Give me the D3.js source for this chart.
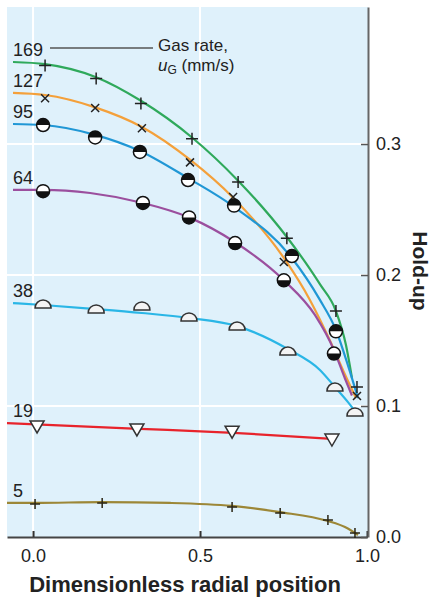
<!DOCTYPE html>
<html>
<head>
<meta charset="utf-8">
<script src="https://cdn.jsdelivr.net/npm/d3@7"></script>
<style>
  body { margin: 0; background: #fff; }
  text { font-family: "Liberation Sans", Arial, Helvetica, sans-serif; fill: #222; }
</style>
</head>
<body>
<main></main>
<script>
// gas rates (mm/s) and the colour of each fitted curve
const rates = [169, 127, 95, 64, 38, 19, 5];
const colors = ["#2fa95b", "#f4a03a", "#2097d5", "#9b4f9e", "#2ab6e6", "#e8232b", "#9c8737"];
const markers = ["plus", "cross", "topHalf", "bottomHalf", "dome", "triangle", "plusSmall"];

// fitted curves: [radial position, hold-up]
const curve169 = [[-0.060, 0.3626], [0.036, 0.361], [0.189, 0.351], [0.323, 0.333], [0.476, 0.305], [0.614, 0.272], [0.760, 0.229], [0.859, 0.193], [0.907, 0.1725], [0.937, 0.1466], [0.955, 0.1214]];
const curve127 = [[-0.060, 0.339], [0.036, 0.3374], [0.186, 0.328], [0.326, 0.313], [0.470, 0.288], [0.599, 0.259], [0.751, 0.213], [0.829, 0.181], [0.889, 0.150], [0.934, 0.124], [0.967, 0.106]];
const curve95 = [[-0.060, 0.3153], [0.030, 0.3145], [0.186, 0.307], [0.320, 0.2947], [0.464, 0.274], [0.602, 0.252], [0.775, 0.213], [0.859, 0.181], [0.907, 0.158], [0.943, 0.131], [0.973, 0.106]];
const curve64 = [[-0.060, 0.265], [0.030, 0.265], [0.171, 0.2626], [0.329, 0.255], [0.467, 0.244], [0.605, 0.225], [0.751, 0.196], [0.844, 0.1695], [0.901, 0.1427], [0.934, 0.121], [0.955, 0.108]];
const curve38 = [[-0.060, 0.1786], [0.030, 0.1771], [0.189, 0.174], [0.326, 0.171], [0.467, 0.1672], [0.611, 0.161], [0.763, 0.1435], [0.859, 0.1275], [0.904, 0.1145], [0.943, 0.103], [0.973, 0.093]];
const curve19 = [[-0.078, 0.0870], [0.300, 0.0828], [0.600, 0.0795], [0.892, 0.0750]];
const curve5 = [[-0.078, 0.026], [0.006, 0.026], [0.207, 0.0267], [0.410, 0.026], [0.596, 0.0237], [0.740, 0.019], [0.883, 0.0122], [0.934, 0.0076], [0.973, 0.0015]];

// measured points
const pts169 = [[0.036, 0.360], [0.189, 0.350], [0.323, 0.331], [0.476, 0.304], [0.614, 0.271], [0.760, 0.228], [0.907, 0.1725], [0.970, 0.1145]];
const pts127 = [[0.036, 0.335], [0.186, 0.3275], [0.326, 0.312], [0.470, 0.286], [0.599, 0.2595], [0.751, 0.210], [0.970, 0.1076]];
const pts95 = [[0.030, 0.3145], [0.186, 0.305], [0.320, 0.294], [0.464, 0.2725], [0.602, 0.253], [0.775, 0.2145], [0.907, 0.157]];
const pts64 = [[0.030, 0.264], [0.329, 0.255], [0.467, 0.244], [0.605, 0.2244], [0.751, 0.196], [0.901, 0.140]];
const pts38 = [[0.030, 0.1771], [0.189, 0.1733], [0.326, 0.1756], [0.467, 0.1672], [0.611, 0.1603], [0.763, 0.1412], [0.904, 0.1137], [0.964, 0.0947]];
const pts19 = [[0.012, 0.084], [0.311, 0.0817], [0.596, 0.080], [0.895, 0.074]];
const pts5 = [[0.006, 0.0252], [0.207, 0.026], [0.596, 0.0229], [0.740, 0.0183], [0.883, 0.013], [0.964, 0.003]];

const curves = [curve169, curve127, curve95, curve64, curve38, curve19, curve5];
const points = [pts169, pts127, pts95, pts64, pts38, pts19, pts5];

const xTicks = [0, 0.5, 1.0];
const yTicks = [0, 0.1, 0.2, 0.3];

const width = 436, height = 600;
const plot = { left: 7, right: 368, top: 7, bottom: 537 };

const svg = d3.select("main").append("svg")
    .attr("width", width)
    .attr("height", height);

const x = d3.scaleLinear().domain([-0.078, 1.0]).range([plot.left, 367]);
const y = d3.scaleLinear().domain([0, 0.4046]).range([plot.bottom, plot.top]);

svg.append("rect")
    .attr("x", plot.left).attr("y", plot.top)
    .attr("width", plot.right - plot.left)
    .attr("height", plot.bottom - plot.top)
    .attr("fill", "#dff1fb");

// white grid
svg.append("g").selectAll("line").data([0, 0.5]).join("line")
    .attr("x1", d => x(d)).attr("x2", d => x(d))
    .attr("y1", plot.top).attr("y2", plot.bottom)
    .attr("stroke", "#fff").attr("stroke-width", 2);
svg.append("g").selectAll("line").data([0.1, 0.2, 0.3]).join("line")
    .attr("x1", plot.left).attr("x2", plot.right)
    .attr("y1", d => y(d)).attr("y2", d => y(d))
    .attr("stroke", "#fff").attr("stroke-width", 2);

// axes
let xAxis = svg.append("g")
    .attr("transform", `translate(0, ${plot.bottom})`)
    .call(d3.axisBottom(x).tickValues(xTicks).tickFormat(d3.format(".1f"))
        .tickSizeInner(-6).tickSizeOuter(0).tickPadding(12));
xAxis.select(".domain").attr("stroke", "#444").attr("stroke-width", 2);
xAxis.selectAll(".tick line").attr("stroke", "#333").attr("stroke-width", 2);
xAxis.selectAll("text").attr("font-size", 18).attr("fill", "#222");

let yAxis = svg.append("g")
    .attr("transform", `translate(${plot.right}, 0)`)
    .call(d3.axisRight(y).tickValues(yTicks).tickFormat(d3.format(".1f"))
        .tickSizeInner(-7).tickSizeOuter(0).tickPadding(8));
yAxis.select(".domain").attr("stroke", "#666").attr("stroke-width", 2);
yAxis.selectAll(".tick line").attr("stroke", "#555").attr("stroke-width", 1.5);
yAxis.selectAll("text").attr("font-size", 18).attr("fill", "#222");

svg.append("text")
    .attr("transform", "translate(413, 271) rotate(90)")
    .attr("text-anchor", "middle")
    .attr("font-size", 21).attr("font-weight", "bold")
    .text("Hold-up");

svg.append("text")
    .attr("x", 185).attr("y", 592)
    .attr("text-anchor", "middle")
    .attr("font-size", 22).attr("font-weight", "bold")
    .text("Dimensionless radial position");

// curves
const line = d3.line().x(d => x(d[0])).y(d => y(d[1])).curve(d3.curveMonotoneX);
svg.append("g").selectAll("path").data(curves).join("path")
    .attr("d", line)
    .attr("fill", "none")
    .attr("stroke", (d, i) => colors[i])
    .attr("stroke-width", 2.2);

// markers
const sym = {
    plus: "M-6,0H6M0,-6V6",
    plusSmall: "M-5,0H5M0,-5V5",
    cross: "M-4,-4L4,4M4,-4L-4,4",
    triangle: "M-7,-6H7L0,6Z",
    dome: "M-8,3A8,8 0 0 1 8,3Z"
};

points.forEach((pts, i) => {
    let g = svg.append("g");
    let kind = markers[i];
    let m = g.selectAll("g").data(pts).join("g")
        .attr("transform", d => `translate(${x(d[0])}, ${y(d[1])})`);
    if (kind === "topHalf" || kind === "bottomHalf") {
        m.append("circle").attr("r", 6.5).attr("fill", "#fff").attr("stroke", "#111").attr("stroke-width", 1.5);
        m.append("path")
            .attr("d", kind === "topHalf" ? "M-6.5,0A6.5,6.5 0 0 1 6.5,0Z" : "M-6.5,0A6.5,6.5 0 0 0 6.5,0Z")
            .attr("fill", "#111");
    } else if (kind === "dome") {
        m.append("path").attr("d", sym.dome)
            .attr("fill", "#f4f4f4").attr("stroke", "#333").attr("stroke-width", 1.5);
    } else if (kind === "triangle") {
        m.append("path").attr("d", sym.triangle)
            .attr("fill", "#fff").attr("stroke", "#333").attr("stroke-width", 1.5);
    } else {
        m.append("path").attr("d", sym[kind])
            .attr("fill", "none")
            .attr("stroke", kind === "plusSmall" ? "#2b2614" : "#222")
            .attr("stroke-width", 1.5);
    }
});

// series labels
svg.append("g").selectAll("text").data(rates).join("text")
    .attr("x", 13)
    .attr("y", (d, i) => y(curves[i][0][1]) - 6)
    .attr("font-size", 18)
    .text(d => d);

// legend note
svg.append("line")
    .attr("x1", 50).attr("x2", 153).attr("y1", 48).attr("y2", 48)
    .attr("stroke", "#555").attr("stroke-width", 1.5);
svg.append("text").attr("x", 158).attr("y", 51).attr("font-size", 17).text("Gas rate,");
let ug = svg.append("text").attr("x", 158).attr("y", 71).attr("font-size", 17);
ug.append("tspan").attr("font-style", "italic").text("u");
ug.append("tspan").attr("font-size", 12).attr("dy", 3).text("G");
ug.append("tspan").attr("dy", -3).text(" (mm/s)");
</script>
</body>
</html>
